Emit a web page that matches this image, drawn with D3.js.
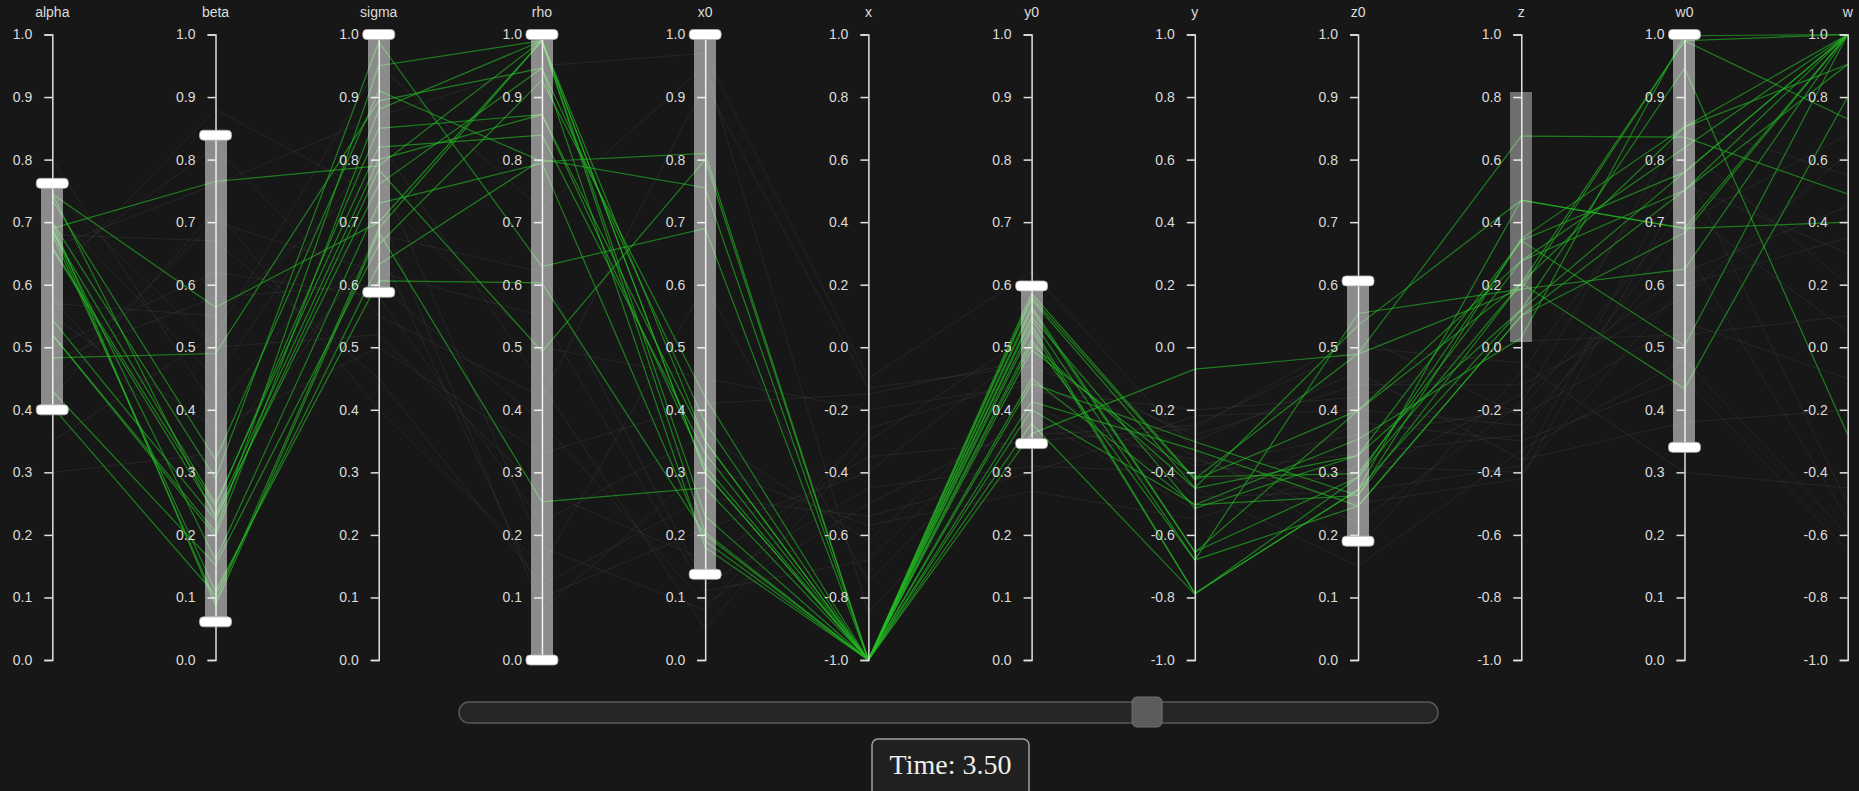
<!DOCTYPE html>
<html><head><meta charset="utf-8">
<script src="https://cdn.jsdelivr.net/npm/d3@7"></script>
<style>
html,body{margin:0;padding:0;background:#171717;overflow:hidden}
svg{display:block}
</style></head><body>
<svg id="chart" width="1859" height="791"></svg>
<script>
// ---- dimensions / axes ----
const dimensions = ["alpha","beta","sigma","rho","x0","x","y0","y","z0","z","w0","w"];
const domainMin  = [0,0,0,0,0,-1,0,-1,0,-1,0,-1];
const domainMax  = [1,1,1,1,1, 1,1, 1,1, 1,1, 1];
const ticksUnit  = [0,0.1,0.2,0.3,0.4,0.5,0.6,0.7,0.8,0.9,1.0];
const ticksSigned= [-1,-0.8,-0.6,-0.4,-0.2,0,0.2,0.4,0.6,0.8,1.0];

// ---- brush extents (null = no brush) ----
const brushLow    = [0.400,0.061,0.588,0.0,0.137,null,0.346,null,0.190,0.017,0.340,null];
const brushHigh   = [0.762,0.839,1.0,  1.0,1.0,  null,0.598,null,0.606,0.817,1.0,  null];
const brushKnobs  = [true,true,true,true,true,false,true,false,true,false,true,false];

// ---- series values (one array per dimension, one entry per record) ----
const alphaValues = [0.690,0.745,0.483,0.735,0.700,0.684,0.658,0.544,0.520,0.430,0.405,0.690,0.700,0.680,0.690,0.745,0.660,0.520,
                     0.63,0.57,0.68,0.45,0.80,0.35,0.55,0.72,0.50,0.58,0.42,0.66,0.30,0.61,0.75,0.48];
const betaValues  = [0.765,0.564,0.490,0.320,0.290,0.250,0.233,0.224,0.198,0.152,0.104,0.094,0.087,0.110,0.160,0.228,0.245,0.205,
                     0.82,0.55,0.67,0.70,0.40,0.52,0.37,0.45,0.62,0.28,0.72,0.76,0.33,0.88,0.50,0.58];
const sigmaValues = [0.790,0.700,0.894,0.910,0.988,0.820,0.800,0.784,0.880,0.664,0.632,0.690,0.684,0.606,0.730,0.760,0.850,0.950,
                     0.55,0.78,0.45,0.62,0.72,0.95,0.50,0.83,0.58,0.68,0.40,0.87,0.66,0.74,0.52,0.60];
const rhoValues   = [0.990,0.990,0.946,0.797,0.629,0.839,0.872,0.493,0.990,0.927,0.800,0.990,0.253,0.603,0.794,0.946,0.872,0.990,
                     0.42,0.18,0.12,0.55,0.08,0.72,0.33,0.44,0.22,0.62,0.15,0.95,0.10,0.50,0.27,0.38];
const x0Values    = [0.350,0.300,0.380,0.810,0.690,0.330,0.310,0.800,0.204,0.420,0.755,0.230,0.275,0.200,0.190,0.180,0.350,0.300,
                     0.92,0.08,0.26,0.11,0.31,0.95,0.41,0.05,0.36,0.12,0.60,0.97,0.21,0.45,0.16,0.09];
const xValues     = [-1,-1,-1,-1,-1,-1,-1,-1,-1,-1,-1,-1,-1,-1,-1,-1,-1,-1,
                     -0.13,-0.26,-0.54,-0.68,-0.57,-0.85,-0.15,-0.30,-0.62,-0.45,-0.75,-0.10,-0.40,-0.20,-0.35,-0.50];
const y0Values    = [0.586,0.576,0.560,0.549,0.528,0.512,0.496,0.442,0.413,0.400,0.378,0.362,0.580,0.565,0.505,0.545,0.535,0.450,
                     0.47,0.45,0.30,0.41,0.27,0.36,0.48,0.52,0.43,0.31,0.39,0.62,0.50,0.44,0.35,0.38];
const yValues     = [-0.420,-0.450,-0.656,-0.515,-0.787,-0.680,-0.414,-0.302,-0.328,-0.504,-0.790,-0.070,-0.424,-0.654,-0.451,-0.680,-0.787,-0.504,
                     -0.28,-0.38,-0.22,-0.45,-0.55,-0.25,-0.35,-0.48,-0.20,-0.40,-0.52,-0.33,-0.30,-0.42,-0.26,-0.36];
const z0Values    = [0.490,0.535,0.399,0.327,0.272,0.554,0.298,0.263,0.246,0.353,0.292,0.489,0.399,0.292,0.327,0.246,0.272,0.263,
                     0.44,0.36,0.40,0.15,0.31,0.50,0.22,0.27,0.42,0.33,0.38,0.18,0.46,0.29,0.52,0.25];
const zValues     = [0.675,0.470,0.205,0.341,0.120,0.186,0.276,0.347,0.100,0.030,0.205,0.186,0.276,0.341,0.120,0.100,0.470,0.205,
                     -0.12,-0.20,-0.25,-0.33,-0.40,-0.05,-0.18,-0.38,0.02,-0.28,-0.30,-0.08,-0.36,-0.15,-0.22,-0.42];
const w0Values    = [0.836,0.690,0.990,0.780,0.946,0.625,0.751,0.852,0.683,0.998,0.434,0.990,0.819,0.502,0.780,0.751,0.690,0.852,
                     0.58,0.72,0.66,0.48,0.60,0.30,0.86,0.79,0.52,0.70,0.45,0.82,0.38,0.62,0.54,0.76];
const wValues     = [0.490,0.400,1.0,1.0,-0.280,1.0,1.0,0.904,1.0,1.0,0.800,0.730,1.0,1.0,1.0,0.904,1.0,1.0,
                     0.62,0.05,-0.55,-0.60,0.35,-0.45,0.55,-0.50,0.10,0.68,-0.65,0.20,-0.20,0.45,-0.10,0.30];

// ---- time slider ----
const timeMin = 0, timeMax = 5, timeValue = 3.5;

const seriesByDim = [alphaValues,betaValues,sigmaValues,rhoValues,x0Values,xValues,y0Values,yValues,z0Values,zValues,w0Values,wValues];
const records = alphaValues.map((_, k) => {
  const r = {};
  dimensions.forEach((d, i) => r[d] = seriesByDim[i][k]);
  return r;
});

const svg = d3.select("#chart");
const TOP = 34.5, BOTTOM = 660;
const xPos = d3.scalePoint().domain(dimensions).range([52.3, 1847.7]);
const yScales = {};
dimensions.forEach((d, i) => {
  yScales[d] = d3.scaleLinear().domain([domainMin[i], domainMax[i]]).range([BOTTOM, TOP]);
});

const lineGen = d3.line();
const pathFor = r => lineGen(dimensions.map(d => [xPos(d), yScales[d](r[d])]));

const linesG = svg.append("g").attr("fill", "none");
const paths = linesG.selectAll("path").data(records).join("path").attr("d", pathFor);

const sel = {};
function isActive(r) {
  return dimensions.every(d => !sel[d] || (r[d] >= sel[d][0] - 1e-9 && r[d] <= sel[d][1] + 1e-9));
}
function updateLines() {
  paths.each(function(r) {
    const a = isActive(r);
    d3.select(this)
      .attr("stroke", a ? "rgb(36,190,36)" : "#5a5a5a")
      .attr("stroke-opacity", a ? 0.62 : 0.22)
      .attr("stroke-width", a ? 1.2 : 1);
  });
  paths.filter(isActive).raise();
}

// ---- axes ----
const fmt = v => (Math.abs(v) < 1e-9 ? 0 : v).toFixed(1);
dimensions.forEach((d, i) => {
  const g = svg.append("g").attr("transform", `translate(${xPos(d)},0)`);
  const axis = d3.axisLeft(yScales[d])
    .tickValues(domainMin[i] < 0 ? ticksSigned : ticksUnit)
    .tickFormat(fmt)
    .tickSizeInner(8).tickSizeOuter(8).tickPadding(12);
  g.call(axis);
  g.attr("font-family", "'Liberation Sans', Arial, sans-serif").attr("font-size", 14);
  g.select(".domain").attr("stroke", "#e0e0e0").attr("stroke-width", 1.5);
  g.selectAll(".tick line").attr("stroke", "#e0e0e0").attr("stroke-width", 1.5);
  g.selectAll(".tick text").attr("fill", "#dcdcdc");
  g.append("text")
    .attr("x", 0).attr("y", 17)
    .attr("text-anchor", "middle")
    .attr("fill", "#dcdcdc")
    .text(d);
});

// ---- brushes ----
dimensions.forEach((d, i) => {
  if (brushLow[i] == null) return;
  const y = yScales[d];
  const g = svg.append("g").attr("class", "brush").attr("transform", `translate(${xPos(d)},0)`);
  let knobTop, knobBot;
  const brush = d3.brushY()
    .extent([[-11, TOP], [11, BOTTOM]])
    .on("start brush end", ev => {
      const s = ev.selection;
      if (s) {
        sel[d] = [y.invert(s[1]), y.invert(s[0])];
        if (knobTop) {
          knobTop.attr("y", s[0] - 5).style("display", null);
          knobBot.attr("y", s[1] - 5).style("display", null);
        }
      } else {
        sel[d] = null;
        if (knobTop) { knobTop.style("display", "none"); knobBot.style("display", "none"); }
      }
      updateLines();
    });
  g.call(brush);
  g.select(".selection")
    .attr("fill", "#ffffff")
    .attr("fill-opacity", brushKnobs[i] ? 0.5 : 0.38)
    .attr("stroke", "none");
  if (brushKnobs[i]) {
    knobTop = g.append("rect").attr("x", -16).attr("width", 32).attr("height", 10).attr("rx", 4)
      .attr("fill", "#ffffff").attr("stroke", "#b0b0b0").attr("stroke-width", 0.8).attr("pointer-events", "none");
    knobBot = g.append("rect").attr("x", -16).attr("width", 32).attr("height", 10).attr("rx", 4)
      .attr("fill", "#ffffff").attr("stroke", "#b0b0b0").attr("stroke-width", 0.8).attr("pointer-events", "none");
  }
  g.call(brush.move, [y(brushHigh[i]), y(brushLow[i])]);
});
updateLines();

// ---- time slider ----
const trackX0 = 459, trackX1 = 1438, thumbW = 30;
const tScale = d3.scaleLinear().domain([timeMin, timeMax]).range([466, 1439]);
const sliderG = svg.append("g");
sliderG.append("rect")
  .attr("x", trackX0).attr("y", 702).attr("width", trackX1 - trackX0).attr("height", 21).attr("rx", 10)
  .attr("fill", "#262626").attr("stroke", "#585858").attr("stroke-width", 1.5);
sliderG.append("rect")
  .attr("x", tScale(timeValue) - thumbW / 2).attr("y", 697).attr("width", thumbW).attr("height", 30).attr("rx", 5)
  .attr("fill", "#5c5c5c").attr("stroke", "#707070").attr("stroke-width", 1);

const boxG = svg.append("g");
boxG.append("rect")
  .attr("x", 872).attr("y", 739).attr("width", 157).attr("height", 70).attr("rx", 6)
  .attr("fill", "#202020").attr("stroke", "#a0a0a0").attr("stroke-width", 1.5);
boxG.append("text")
  .attr("x", 950.5).attr("y", 774)
  .attr("text-anchor", "middle")
  .attr("font-family", "'Liberation Serif', 'Times New Roman', serif")
  .attr("font-size", 28)
  .attr("fill", "#eeeeee")
  .text("Time: " + d3.format(".2f")(timeValue));
</script>
</body></html>
